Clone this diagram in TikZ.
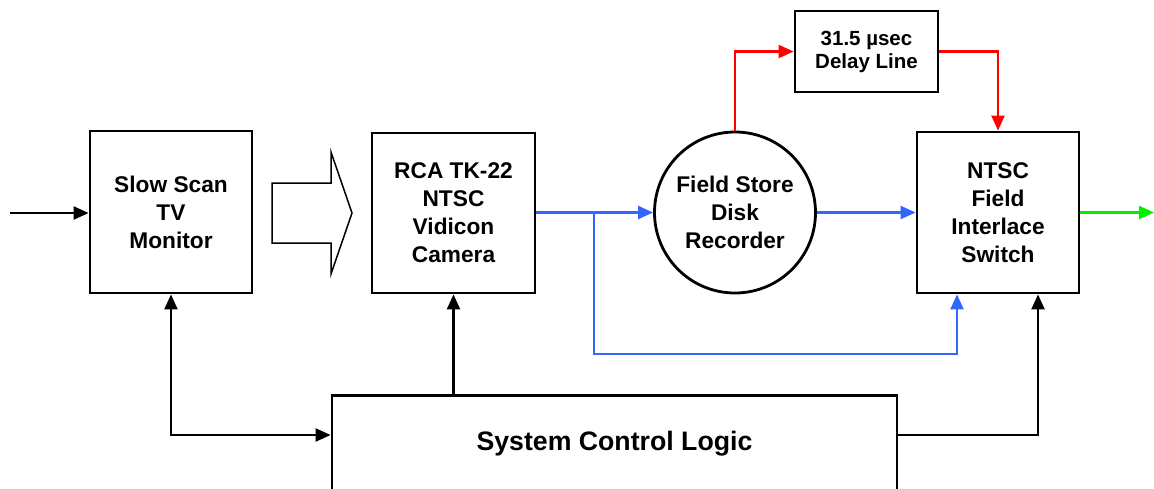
\documentclass[tikz,border=0pt]{standalone}
\usepackage{fontspec}
\setmainfont{Liberation Sans}
\usetikzlibrary{arrows.meta}
\definecolor{sigblue}{RGB}{51,102,255}
\definecolor{sigred}{RGB}{255,0,0}
\definecolor{siggreen}{RGB}{0,240,0}
\begin{document}
\begin{tikzpicture}[x=1pt,y=-1pt,
  blk/.style={draw,line width=2.8pt,inner sep=0pt,align=center,font=\fontsize{22.7}{28}\selectfont\bfseries},
  conn/.style={line width=2.2pt,-{Triangle[length=15pt,width=13pt]}},
  both/.style={line width=2.2pt,{Triangle[length=15pt,width=13pt]}-{Triangle[length=15pt,width=13pt]}}]
\useasboundingbox (0,0) rectangle (1154,488);
\node[blk,minimum width=162pt,minimum height=162pt] (slow) at (171,212) {Slow Scan\\TV\\Monitor};
\node[blk,minimum width=163pt,minimum height=160pt] (cam) at (453.5,213) {RCA TK-22\\NTSC\\Vidicon\\Camera};
\node[blk,circle,minimum size=161pt] (store) at (735,212.5) {Field Store\\Disk\\Recorder};
\node[blk,minimum width=162pt,minimum height=161pt] (ntsc) at (998,212.5) {NTSC\\Field\\Interlace\\Switch};
\node[blk,minimum width=143pt,minimum height=81pt,font=\fontsize{20.5}{23}\selectfont\bfseries] (delay) at (866.5,51.5) {31.5 µsec\\Delay Line};
\node[blk,minimum width=565pt,minimum height=96pt,anchor=north,font=\fontsize{26.7}{30}\selectfont\bfseries] (scl) at (614.5,394) {System Control Logic};
% hollow arrow
\draw[line width=1.5pt] (272,183) -- (331,183) -- (331,152) -- (352,213) -- (331,274) -- (331,243) -- (272,243) -- cycle;
% input
\coordinate (in) at (10,213);
\draw[conn] (in) -- (slow.west |- in);
% control lines
\draw[both] (slow.south) |- ([yshift=-41pt]scl.north west);
\draw[conn] (scl.north -| cam.south) -- (cam.south);
\draw[conn] ([yshift=-41pt]scl.north east) -| ([xshift=40pt]ntsc.south);
% blue video
\coordinate (br) at (594,212);
\coordinate (bl) at (594,354);
\draw[conn,sigblue] (cam.east |- store.west) -- (store.west);
\draw[conn,sigblue] (store.east) -- (ntsc.west);
\draw[conn,sigblue] (br) -- (bl) -| ([xshift=-41pt]ntsc.south);
% red delay
\draw[conn,sigred] (store.north) |- (delay.west);
\draw[conn,sigred] (delay.east) -| (ntsc.north);
% green output
\coordinate (out) at (1154,212.5);
\draw[conn,siggreen] (ntsc.east) -- (out);
\end{tikzpicture}
\end{document}
